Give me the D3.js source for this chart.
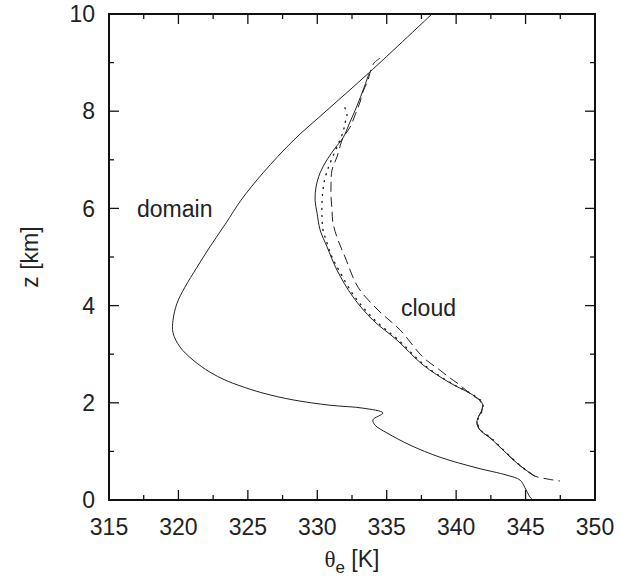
<!DOCTYPE html>
<html>
<head>
<meta charset="utf-8">
<script src="https://cdn.jsdelivr.net/npm/d3@7"></script>
<style>
  body { margin: 0; background: #fff; }
  text { font-family: "Liberation Sans", Arial, sans-serif; fill: #222; }
</style>
</head>
<body>
<script>
// theta_e [K] and height [km]
const domainT = [338.26, 333.72, 330.70, 328.32, 326.09, 324.51, 323.43, 322.27, 321.34, 320.47, 319.90, 319.61, 319.61, 320.11, 321.05, 322.27, 323.35, 324.43, 326.09, 328.25, 330.92, 333.29, 334.73, 334.01, 334.16, 335.02, 336.68, 338.84, 341.50, 343.66, 344.60, 344.96, 345.32, 345.53];
const domainZ = [10.0, 8.79, 8.02, 7.41, 6.73, 6.17, 5.70, 5.21, 4.79, 4.38, 4.05, 3.70, 3.44, 3.15, 2.88, 2.63, 2.47, 2.35, 2.20, 2.06, 1.95, 1.89, 1.79, 1.65, 1.54, 1.38, 1.13, 0.88, 0.66, 0.51, 0.41, 0.25, 0.06, 0.0];

const cloudT = [333.72, 333.36, 332.86, 332.36, 331.85, 331.28, 330.70, 330.20, 329.91, 329.84, 329.98, 330.20, 330.70, 331.42, 332.57, 334.01, 335.74, 337.61, 339.56, 341.21, 341.86, 341.86, 341.57, 341.50, 341.72, 342.44, 343.37, 344.38, 345.10, 345.68];
const cloudZ = [8.77, 8.48, 8.11, 7.78, 7.45, 7.24, 7.00, 6.73, 6.44, 6.17, 5.91, 5.56, 5.21, 4.73, 4.18, 3.70, 3.29, 2.78, 2.41, 2.16, 2.00, 1.85, 1.69, 1.58, 1.44, 1.28, 1.03, 0.76, 0.60, 0.49];

const dottedT = [331.99, 332.14, 332.00, 331.85, 330.92, 330.56, 330.41, 330.34, 330.34, 330.41, 330.70, 331.06, 331.55, 332.70, 334.15, 335.85, 337.70, 339.60, 341.25, 341.90, 341.90, 341.60, 341.55, 341.75, 342.50, 343.40, 344.40, 345.10, 345.65];
const dottedZ = [8.07, 7.92, 7.76, 7.57, 6.93, 6.63, 6.38, 6.11, 5.82, 5.56, 5.29, 5.00, 4.73, 4.18, 3.70, 3.29, 2.78, 2.41, 2.16, 2.00, 1.85, 1.69, 1.58, 1.44, 1.28, 1.03, 0.76, 0.60, 0.50];

const dashedT = [334.52, 334.08, 333.80, 333.65, 333.29, 333.08, 332.72, 332.36, 331.85, 331.42, 331.06, 330.99, 330.99, 331.06, 331.13, 331.49, 332.00, 332.93, 334.37, 335.96, 337.61, 338.84, 339.56, 340.06, 341.14, 341.72, 341.86, 341.86, 341.57, 341.50, 341.72, 342.44, 343.37, 344.38, 345.10, 345.68, 346.61, 347.48];
const dashedZ = [9.09, 8.99, 8.79, 8.64, 8.40, 8.19, 7.92, 7.67, 7.45, 7.06, 6.79, 6.52, 6.23, 5.97, 5.70, 5.35, 5.00, 4.38, 3.91, 3.50, 2.94, 2.67, 2.51, 2.41, 2.16, 2.04, 1.92, 1.85, 1.69, 1.58, 1.44, 1.28, 1.03, 0.76, 0.60, 0.49, 0.43, 0.39];

const xTicks = [315, 320, 325, 330, 335, 340, 345, 350];
const yTicks = [0, 2, 4, 6, 8, 10];

let width = 631, height = 576;
let margin = {left: 109, top: 14, right: 36, bottom: 76};
let w = width - margin.left - margin.right;
let h = height - margin.top - margin.bottom;

let svg = d3.select('body').append('svg').attr('width', width).attr('height', height);
let g = svg.append('g').attr('transform', `translate(${margin.left},${margin.top})`);

let x = d3.scaleLinear().domain([315, 350]).range([0, w]);
let y = d3.scaleLinear().domain([0, 10]).range([h, 0]);

let line = d3.line()
  .x(d => x(d[0]))
  .y(d => y(d[1]))
  .curve(d3.curveCatmullRom.alpha(0.5));

function draw(ts, zs, dash) {
  g.append('path')
    .datum(ts.map((t, i) => [t, zs[i]]))
    .attr('d', line)
    .attr('fill', 'none')
    .attr('stroke', '#222')
    .attr('stroke-width', dash === '1,6' ? 1.4 : 1)
    .attr('stroke-linecap', dash === '1,6' ? 'round' : 'butt')
    .attr('stroke-dasharray', dash);
}

draw(domainT, domainZ, null);
draw(cloudT, cloudZ, null);
draw(dottedT, dottedZ, '1,6');
draw(dashedT, dashedZ, '10,5');

// ticks on all four sides, pointing inward
let minorX = d3.range(315, 350.1, 2.5);
let minorY = d3.range(0, 10.1, 1);
function tickLen(v, step) { return Math.abs(v / step - Math.round(v / step)) < 1e-6 ? 10 : 5; }

let ticks = g.append('g').attr('stroke', '#111').attr('stroke-width', 1.3);
minorX.forEach(v => {
  let l = tickLen(v, 5);
  ticks.append('line').attr('x1', x(v)).attr('x2', x(v)).attr('y1', h).attr('y2', h - l);
  ticks.append('line').attr('x1', x(v)).attr('x2', x(v)).attr('y1', 0).attr('y2', l);
});
minorY.forEach(v => {
  let l = tickLen(v, 2);
  ticks.append('line').attr('y1', y(v)).attr('y2', y(v)).attr('x1', 0).attr('x2', l);
  ticks.append('line').attr('y1', y(v)).attr('y2', y(v)).attr('x1', w).attr('x2', w - l);
});

g.append('rect')
  .attr('width', w).attr('height', h)
  .attr('fill', 'none').attr('stroke', '#111').attr('stroke-width', 2);

g.selectAll('.xl').data(xTicks).enter().append('text')
  .attr('x', d => x(d)).attr('y', h + 35)
  .attr('text-anchor', 'middle').attr('font-size', 23)
  .text(d => d);

g.selectAll('.yl').data(yTicks).enter().append('text')
  .attr('x', -14).attr('y', d => y(d)).attr('dy', '0.36em')
  .attr('text-anchor', 'end').attr('font-size', 23)
  .text(d => d);

// axis titles
let xt = svg.append('text')
  .attr('x', margin.left + w / 2).attr('y', 567)
  .attr('text-anchor', 'middle').attr('font-size', 23);
xt.append('tspan').attr('font-family', '"Liberation Serif", serif').text('θ');
xt.append('tspan').attr('font-size', 17).attr('dy', 6).text('e');
xt.append('tspan').attr('dy', -6).text(' [K]');

svg.append('text')
  .attr('transform', `translate(38,${margin.top + h / 2}) rotate(-90)`)
  .attr('text-anchor', 'middle').attr('font-size', 23)
  .text('z [km]');

g.append('text').attr('x', 137 - margin.left).attr('y', 217 - margin.top)
  .attr('font-size', 23).text('domain');
g.append('text').attr('x', 401 - margin.left).attr('y', 316 - margin.top)
  .attr('font-size', 23).text('cloud');
</script>
</body>
</html>
